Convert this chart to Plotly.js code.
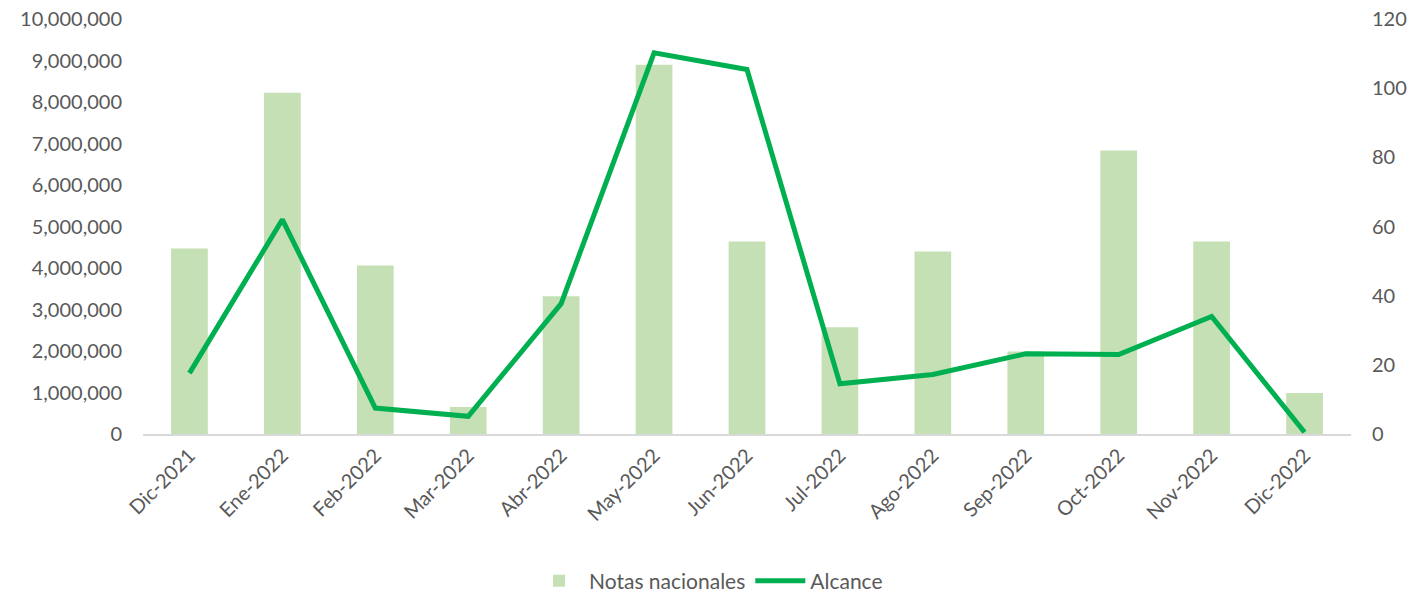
<!DOCTYPE html>
<html>
<head>
<meta charset="utf-8">
<script src="https://cdn.plot.ly/plotly-3.0.1.min.js"></script>
<style>html,body{margin:0;padding:0;background:#fff;}#chart{width:1417px;height:593px;}</style>
</head>
<body>
<div id="chart"></div>
<script>
const categories = ["Dic-2021","Ene-2022","Feb-2022","Mar-2022","Abr-2022","May-2022","Jun-2022","Jul-2022","Ago-2022","Sep-2022","Oct-2022","Nov-2022","Dic-2022"];
const notasNacionales = [4470000, 8220000, 4060000, 650000, 3320000, 8900000, 4640000, 2570000, 4400000, 1990000, 6830000, 4640000, 990000];
const alcance = [17.6, 62, 7.5, 5.1, 37.7, 110.2, 105.4, 14.5, 17.2, 23.2, 23, 34, 0.5];
const leftTicks = [0,1000000,2000000,3000000,4000000,5000000,6000000,7000000,8000000,9000000,10000000];
const rightTicks = [0,20,40,60,80,100,120];

const font = {family: "Lato, 'Open Sans', sans-serif", size: 20, color: "#595959"};
const legendFont = {family: "Lato, 'Open Sans', sans-serif", size: 21, color: "#595959"};

const traces = [
  {type: "bar", name: "Notas nacionales", x: categories, y: notasNacionales,
   marker: {color: "#c5e0b4"}, yaxis: "y"},
  {type: "scatter", mode: "lines", name: "Alcance", x: categories, y: alcance,
   line: {color: "#00b050", width: 5}, yaxis: "y2"}
];

const layout = {
  width: 1417, height: 593,
  margin: {l: 143, r: 66, t: 19, b: 159},
  paper_bgcolor: "#fff", plot_bgcolor: "#fff",
  font: font,
  bargap: 0.605,
  showlegend: true,
  legend: {orientation: "h", xref: "container", yref: "container",
           x: 0.5, xanchor: "center", y: 0.02, yanchor: "middle",
           font: legendFont, traceorder: "normal", itemwidth: 50},
  xaxis: {type: "category", tickangle: -45, showgrid: false, zeroline: false,
          showline: true, linecolor: "#d9d9d9", linewidth: 2, ticks: "",
          tickfont: font, automargin: false},
  yaxis: {range: [0, 10000000], tickvals: leftTicks, tickformat: ",d",
          showgrid: false, zeroline: false, showline: false, ticks: "",
          ticklabelstandoff: 20, tickfont: font, automargin: false},
  yaxis2: {range: [0, 120], tickvals: rightTicks, overlaying: "y", side: "right",
           showgrid: false, zeroline: false, showline: false, ticks: "",
           ticklabelstandoff: 20, tickfont: font, automargin: false}
};

Plotly.newPlot("chart", traces, layout, {displayModeBar: false, responsive: false});
</script>
</body>
</html>
